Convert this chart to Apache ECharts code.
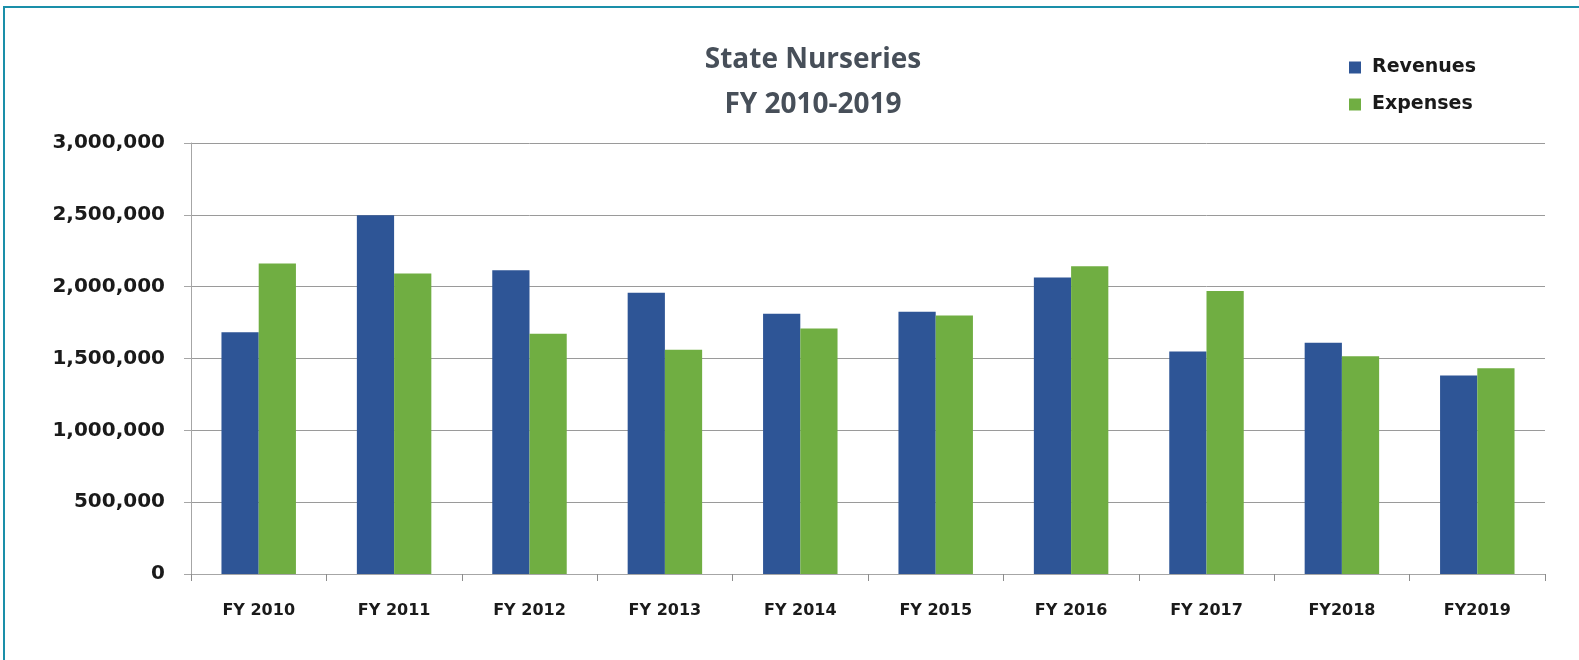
<!DOCTYPE html>
<html lang="en">
<head>
    <meta charset="UTF-8">
    <title>State Nurseries</title>
    <script src="https://cdn.jsdelivr.net/npm/echarts@6/dist/echarts.min.js"></script>
    <style>
        html, body { margin: 0; padding: 0; background: #fff; }
        #chart { position: absolute; left: 0; top: 0; width: 1579px; height: 660px; }
        #frame {
            position: absolute; left: 3px; top: 6px; width: 1590px; height: 680px;
            border-left: 2px solid #1a8fa9; border-top: 2px solid #1a8fa9;
            pointer-events: none;
        }
    </style>
</head>
<body>
<div id="chart"></div>
<div id="frame"></div>
<script type="text/javascript">
    var years = ['FY 2010', 'FY 2011', 'FY 2012', 'FY 2013', 'FY 2014',
        'FY 2015', 'FY 2016', 'FY 2017', 'FY2018', 'FY2019'];
    var revenues = [1683000, 2497000, 2114000, 1958000, 1812000,
        1826000, 2063000, 1549000, 1610000, 1381000];
    var expenses = [2161000, 2091000, 1672000, 1561000, 1709000,
        1800000, 2142000, 1970000, 1516000, 1432000];

    var myChart = echarts.init(document.getElementById('chart'));

    var option = {
        backgroundColor: '#ffffff',
        animation: false,
        title: {
            text: 'State Nurseries\nFY 2010-2019',
            left: 808,
            top: 33,
            textAlign: 'center',
            textStyle: {
                fontFamily: 'Open Sans',
                fontWeight: 'bold',
                fontSize: 28,
                lineHeight: 45,
                color: '#474f59'
            }
        },
        legend: {
            orient: 'vertical',
            left: 1344,
            top: 53,
            itemWidth: 12,
            itemHeight: 12,
            itemGap: 18,
            icon: 'rect',
            textStyle: {
                fontFamily: 'DejaVu Sans',
                fontWeight: 'bold',
                fontSize: 19,
                color: '#1a1a1a',
                padding: [0, 0, 0, 6]
            },
            data: ['Revenues', 'Expenses']
        },
        grid: {
            left: 191,
            right: 34,
            top: 143,
            bottom: 86
        },
        xAxis: {
            type: 'category',
            data: years,
            axisLine: { lineStyle: { color: '#a6a6a6', width: 1 } },
            axisTick: { show: true, length: 7, lineStyle: { color: '#8c8c8c' } },
            axisLabel: {
                margin: 29,
                fontFamily: 'DejaVu Sans',
                fontWeight: 'bold',
                fontSize: 16,
                color: '#1a1a1a'
            }
        },
        yAxis: {
            type: 'value',
            min: 0,
            max: 3000000,
            interval: 500000,
            axisLine: { show: true, lineStyle: { color: '#a6a6a6' } },
            axisTick: { show: true, length: 7, lineStyle: { color: '#a6a6a6' } },
            splitLine: { lineStyle: { color: '#9a9a9a', width: 1 } },
            axisLabel: {
                margin: 26,
                fontFamily: 'DejaVu Sans',
                fontWeight: 'bold',
                fontSize: 20,
                color: '#1a1a1a',
                formatter: function (v) {
                    return v.toLocaleString('en-US');
                }
            }
        },
        series: [
            {
                name: 'Revenues',
                type: 'bar',
                data: revenues,
                barGap: '0%',
                barCategoryGap: '45%',
                itemStyle: { color: '#2e5596' }
            },
            {
                name: 'Expenses',
                type: 'bar',
                data: expenses,
                itemStyle: { color: '#70ae42' }
            }
        ]
    };

    myChart.setOption(option);
</script>
</body>
</html>
